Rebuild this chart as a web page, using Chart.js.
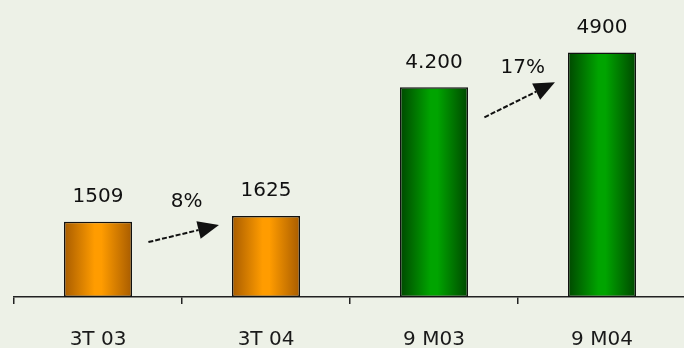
<!DOCTYPE html>
<html>
<head>
<meta charset="utf-8">
<script src="https://cdn.jsdelivr.net/npm/chart.js@4.4.1/dist/chart.umd.min.js"></script>
<style>
  html, body { margin: 0; padding: 0; background: #EDF1E7; overflow: hidden; width: 684px; height: 348px; }
  #wrap { width: 686px; height: 348px; }
</style>
</head>
<body>
<div id="wrap"><canvas id="c" width="686" height="348"></canvas></div>
<script>
const categories = ['3T 03', '3T 04', '9 M03', '9 M04'];
const values = [1509, 1625, 4200, 4900];
const valueLabels = ['1509', '1625', '4.200', '4900'];
const growthLabels = ['8%', '17%'];
const growthFrom = [0, 2];
const growthStart = [1100, 3600];
const growthEnd = [1440, 4300];
const barColors = [
  ['#A85C00', '#FF9C00'],
  ['#A85C00', '#FF9C00'],
  ['#004800', '#00A400'],
  ['#004800', '#00A400']
];
const FONT = '"DejaVu Sans", "Liberation Sans", Arial, sans-serif';

function barFill(ctx) {
  const chart = ctx.chart;
  const xs = chart.scales.x;
  const i = ctx.dataIndex;
  const pair = barColors[i];
  if (!xs || !chart.chartArea) return pair[1];
  const c = xs.getPixelForValue(i);
  const half = (xs.width / categories.length) * 0.405 / 2;
  const g = chart.ctx.createLinearGradient(c - half, 0, c + half, 0);
  g.addColorStop(0, pair[0]);
  g.addColorStop(0.45, pair[1]);
  g.addColorStop(0.55, pair[1]);
  g.addColorStop(1, pair[0]);
  return g;
}

const annot = {
  id: 'annot',
  afterDatasetsDraw(chart) {
    const ctx = chart.ctx;
    const xs = chart.scales.x, ys = chart.scales.y;
    ctx.save();
    ctx.fillStyle = '#111';
    ctx.font = '20px ' + FONT;
    ctx.textAlign = 'center';
    ctx.textBaseline = 'middle';
    const meta = chart.getDatasetMeta(0);
    meta.data.forEach((bar, i) => {
      ctx.fillText(valueLabels[i], bar.x, bar.y - 25);
    });
    growthLabels.forEach((lab, k) => {
      const i = growthFrom[k];
      const x0 = xs.getPixelForValue(i + 0.3);
      const x1 = xs.getPixelForValue(i + 0.72);
      const y0 = ys.getPixelForValue(growthStart[k]);
      const y1 = ys.getPixelForValue(growthEnd[k]);
      const ang = Math.atan2(y1 - y0, x1 - x0);
      const headL = 21, headW = 9;
      const bx = x1 - headL * Math.cos(ang), by = y1 - headL * Math.sin(ang);
      ctx.strokeStyle = '#111';
      ctx.lineWidth = 2;
      ctx.setLineDash([5, 2]);
      ctx.beginPath();
      ctx.moveTo(x0, y0);
      ctx.lineTo(bx, by);
      ctx.stroke();
      ctx.setLineDash([]);
      ctx.beginPath();
      ctx.moveTo(x1, y1);
      ctx.lineTo(bx + headW * Math.sin(ang), by - headW * Math.cos(ang));
      ctx.lineTo(bx - headW * Math.sin(ang), by + headW * Math.cos(ang));
      ctx.closePath();
      ctx.fill();
      ctx.fillText(lab, (x0 + x1) / 2 + 3, (y0 + y1) / 2 - 32);
    });
    ctx.restore();
  }
};

new Chart(document.getElementById('c'), {
  type: 'bar',
  data: {
    labels: categories,
    datasets: [{
      data: values,
      backgroundColor: barFill,
      borderColor: '#111',
      borderWidth: 1.5,
      borderSkipped: false,
      categoryPercentage: 1,
      barPercentage: 0.405
    }]
  },
  options: {
    responsive: false,
    animation: false,
    layout: { padding: { left: 14, right: 0, top: 0, bottom: 0 } },
    plugins: { legend: { display: false }, tooltip: { enabled: false } },
    scales: {
      y: { display: false, min: 0, max: 5950 },
      x: {
        afterFit: (axis) => { axis.height = 51; },
        border: { display: true, color: '#222', width: 1.5 },
        grid: { display: true, drawOnChartArea: false, drawTicks: true, tickLength: 7, color: '#222', lineWidth: 1.5, offset: true },
        ticks: { color: '#1a1a1a', font: { family: FONT, size: 20 }, padding: 24, maxRotation: 0 }
      }
    }
  },
  plugins: [annot]
});
</script>
</body>
</html>
